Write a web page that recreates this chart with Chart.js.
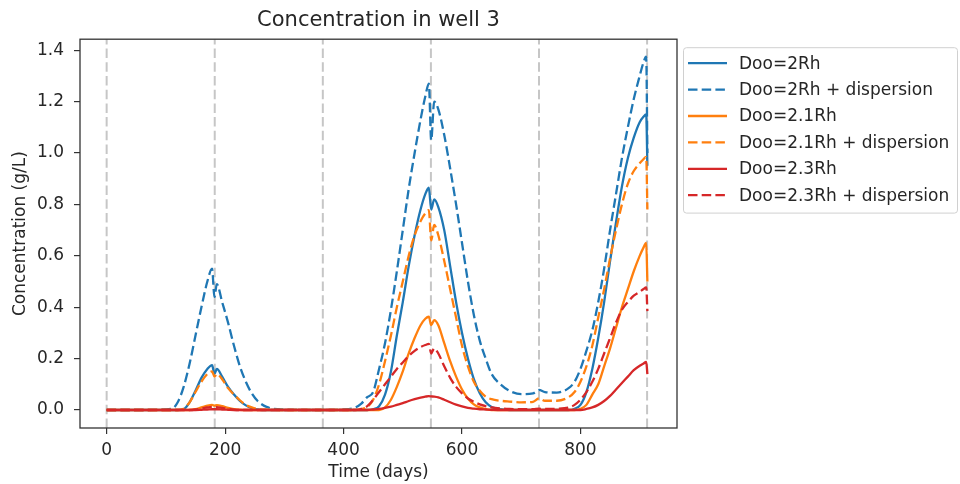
<!DOCTYPE html>
<html>
<head>
<meta charset="utf-8">
<title>Concentration in well 3</title>
<script src="https://cdn.jsdelivr.net/npm/chart.js@4.4.1/dist/chart.umd.min.js"></script>
<style>
  html, body { margin: 0; padding: 0; background: #fff; }
  #wrap { width: 960px; height: 484px; }
</style>
</head>
<body>
<div id="wrap"><canvas id="myChart" width="960" height="484"></canvas></div>
<script>
// Time axis (days), shared by every series
const days = [
  0, 60, 110, 120, 130, 140, 150, 160, 170, 178, 182, 186, 195, 205, 215, 225, 235, 245, 255, 270, 300,
  365, 400, 420, 430, 440, 450, 460, 470, 480, 490, 500, 510, 520, 530,
  538, 544, 548, 553, 560, 570, 580, 590, 600, 610, 620, 630, 640, 650, 665, 680, 700,
  720, 730, 740, 760, 780, 790, 800, 810, 820, 830, 840, 850, 860, 870, 880, 890, 900, 906, 911, 913
];

// Concentration (g/L) for each case
const doo2 = [
  0, 0, 0, 0, 0.003, 0.03, 0.075, 0.125, 0.16, 0.175, 0.14, 0.16, 0.13, 0.09, 0.06, 0.035, 0.018, 0.007, 0.002, 0, 0,
  0, 0, 0, 0, 0, 0.003, 0.015, 0.06, 0.15, 0.29, 0.42, 0.56, 0.68, 0.78,
  0.84, 0.865, 0.78, 0.82, 0.79, 0.70, 0.56, 0.42, 0.30, 0.20, 0.12, 0.065, 0.03, 0.012, 0.003, 0, 0,
  0, 0, 0, 0, 0, 0.005, 0.02, 0.07, 0.16, 0.28, 0.42, 0.58, 0.73, 0.87, 0.98, 1.06, 1.12, 1.14, 1.15, 0.95
];
const doo2Disp = [
  0, 0, 0.005, 0.03, 0.09, 0.18, 0.29, 0.40, 0.50, 0.55, 0.44, 0.49, 0.42, 0.34, 0.25, 0.17, 0.11, 0.065, 0.035, 0.012, 0.002,
  0, 0.002, 0.01, 0.025, 0.05, 0.07, 0.16, 0.26, 0.39, 0.54, 0.70, 0.86, 1.00, 1.13,
  1.22, 1.27, 1.05, 1.20, 1.17, 1.07, 0.94, 0.80, 0.65, 0.50, 0.37, 0.27, 0.20, 0.14, 0.10, 0.075, 0.062,
  0.065, 0.078, 0.07, 0.068, 0.085, 0.11, 0.16, 0.23, 0.31, 0.42, 0.55, 0.70, 0.84, 0.98, 1.10, 1.21, 1.30, 1.35, 1.375, 1.0
];
const doo21 = [
  0, 0, 0, 0, 0, 0, 0.003, 0.01, 0.017, 0.02, 0.017, 0.019, 0.015, 0.008, 0.003, 0.001, 0, 0, 0, 0, 0,
  0, 0, 0, 0, 0, 0, 0, 0.01, 0.04, 0.09, 0.15, 0.22, 0.28, 0.33,
  0.355, 0.363, 0.33, 0.35, 0.33, 0.26, 0.19, 0.13, 0.08, 0.045, 0.022, 0.01, 0.004, 0, 0, 0, 0,
  0, 0, 0, 0, 0, 0, 0.005, 0.02, 0.06, 0.10, 0.17, 0.24, 0.32, 0.40, 0.47, 0.54, 0.60, 0.63, 0.65, 0.50
];
const doo21Disp = [
  0, 0, 0, 0, 0.005, 0.03, 0.07, 0.11, 0.14, 0.15, 0.13, 0.14, 0.12, 0.085, 0.06, 0.038, 0.02, 0.01, 0.004, 0.001, 0,
  0, 0, 0, 0.003, 0.012, 0.04, 0.10, 0.19, 0.29, 0.40, 0.50, 0.60, 0.68, 0.735,
  0.765, 0.778, 0.66, 0.72, 0.68, 0.58, 0.47, 0.36, 0.25, 0.17, 0.11, 0.075, 0.052, 0.042, 0.036, 0.033, 0.03,
  0.032, 0.045, 0.036, 0.036, 0.05, 0.07, 0.11, 0.17, 0.25, 0.36, 0.47, 0.59, 0.70, 0.80, 0.88, 0.93, 0.96, 0.975, 0.985, 0.78
];
const doo23 = [
  0, 0, 0, 0, 0, 0, 0, 0.001, 0.002, 0.003, 0.003, 0.003, 0.002, 0.001, 0, 0, 0, 0, 0, 0, 0,
  0, 0, 0, 0, 0, 0.002, 0.004, 0.008, 0.013, 0.02, 0.027, 0.035, 0.042, 0.048,
  0.052, 0.054, 0.053, 0.052, 0.049, 0.04, 0.03, 0.021, 0.014, 0.008, 0.005, 0.003, 0.002, 0.001, 0, 0, 0,
  0, 0, 0, 0, 0, 0, 0, 0.004, 0.01, 0.02, 0.035, 0.055, 0.08, 0.105, 0.13, 0.155, 0.172, 0.18, 0.187, 0.14
];
const doo23Disp = [
  0, 0, 0, 0, 0, 0, 0.002, 0.006, 0.01, 0.012, 0.01, 0.011, 0.008, 0.004, 0.001, 0, 0, 0, 0, 0, 0,
  0, 0, 0, 0.005, 0.015, 0.04, 0.07, 0.10, 0.13, 0.16, 0.185, 0.21, 0.23, 0.245,
  0.253, 0.257, 0.22, 0.24, 0.22, 0.17, 0.125, 0.09, 0.065, 0.045, 0.032, 0.022, 0.015, 0.01, 0.006, 0.004, 0.003,
  0.003, 0.005, 0.004, 0.005, 0.01, 0.02, 0.04, 0.07, 0.11, 0.16, 0.22, 0.28, 0.34, 0.39, 0.42, 0.445, 0.46, 0.47, 0.477, 0.385
];

const seriesLabels = ['Doo=2Rh', 'Doo=2Rh + dispersion', 'Doo=2.1Rh', 'Doo=2.1Rh + dispersion', 'Doo=2.3Rh', 'Doo=2.3Rh + dispersion'];
const seriesValues = [doo2, doo2Disp, doo21, doo21Disp, doo23, doo23Disp];
const markerDays = [0, 182.5, 365, 547.5, 730, 912.5];   // dashed vertical lines
const xTicks = [0, 200, 400, 600, 800];
const yTicks = [0, 0.2, 0.4, 0.6, 0.8, 1.0, 1.2, 1.4];
const xMin = -45, xMax = 963;
const yMin = -0.07, yMax = 1.443;

const colors = ['#1f77b4', '#1f77b4', '#ff7f0e', '#ff7f0e', '#d62728', '#d62728'];
const dash = [9.5, 4.2];
const textColor = '#262626';

Chart.defaults.font.family = "'DejaVu Sans', sans-serif";
Chart.defaults.color = textColor;

const datasets = seriesValues.map((vals, i) => ({
  label: seriesLabels[i],
  data: days.map((d, k) => ({ x: d, y: vals[k] })),
  borderColor: colors[i],
  borderWidth: 2.3,
  borderDash: i % 2 === 1 ? dash : [],
  cubicInterpolationMode: 'monotone',
  pointRadius: 0,
  fill: false,
  order: 6 - i   // later series on top, as in the original
}));

// dashed grey verticals
markerDays.forEach((d) => {
  datasets.push({
    data: [{ x: d, y: yMin }, { x: d, y: yMax }],
    borderColor: 'rgba(128,128,128,0.45)',
    borderWidth: 2,
    borderDash: dash,
    pointRadius: 0,
    fill: false,
    order: 10
  });
});

// frame round the plot area
const frame = {
  id: 'frame',
  afterDraw(chart) {
    const { ctx, chartArea: a } = chart;
    ctx.save();
    ctx.strokeStyle = '#333';
    ctx.lineWidth = 1.3;
    ctx.strokeRect(a.left, a.top, a.right - a.left, a.bottom - a.top);
    ctx.restore();
  }
};

// legend box outside the plot, on the right
const legendBox = {
  id: 'legendBox',
  afterDraw(chart) {
    const { ctx, chartArea: a } = chart;
    const items = chart.data.datasets.filter((d) => d.label);
    const x0 = a.right + 6, y0 = a.top + 8;
    const rowH = 26.4;
    const w = 274, h = items.length * rowH + 7;
    ctx.save();
    ctx.fillStyle = 'rgba(255,255,255,0.8)';
    ctx.strokeStyle = '#d0d0d0';
    ctx.lineWidth = 1;
    ctx.beginPath();
    ctx.roundRect(x0 + 0.5, y0 + 0.5, w, h, 3);
    ctx.fill();
    ctx.stroke();
    ctx.font = "17px 'DejaVu Sans'";
    ctx.textBaseline = 'middle';
    ctx.textAlign = 'left';
    items.forEach((d, i) => {
      const y = y0 + 16 + i * rowH;
      ctx.strokeStyle = d.borderColor;
      ctx.lineWidth = d.borderWidth;
      ctx.setLineDash(d.borderDash);
      ctx.beginPath();
      ctx.moveTo(x0 + 5, y);
      ctx.lineTo(x0 + 44, y);
      ctx.stroke();
      ctx.setLineDash([]);
      ctx.fillStyle = textColor;
      ctx.fillText(d.label, x0 + 56, y + 1);
    });
    ctx.restore();
  }
};

new Chart(document.getElementById('myChart'), {
  type: 'line',
  data: { datasets },
  options: {
    responsive: false,
    animation: false,
    layout: { padding: { left: 0, top: 0, right: 283, bottom: 0 } },
    plugins: {
      legend: { display: false },
      tooltip: { enabled: false },
      title: {
        display: true,
        text: 'Concentration in well 3',
        fullSize: false,
        color: textColor,
        font: { size: 21, weight: 'normal' },
        padding: { top: 8, bottom: 6 }
      }
    },
    scales: {
      x: {
        type: 'linear',
        min: xMin,
        max: xMax,
        afterBuildTicks: (s) => { s.ticks = xTicks.map((v) => ({ value: v })); },
        afterFit: (s) => { s.height = 56; },
        ticks: { font: { size: 17 }, color: textColor, padding: 6, maxRotation: 0, callback: (v) => String(v) },
        grid: { drawOnChartArea: false, drawTicks: true, tickLength: 6, color: '#333', lineWidth: 1.2 },
        border: { display: false },
        title: { display: true, text: 'Time (days)', font: { size: 17 }, color: textColor, padding: { top: 0, bottom: 1 } }
      },
      y: {
        type: 'linear',
        min: yMin,
        max: yMax,
        afterBuildTicks: (s) => { s.ticks = yTicks.map((v) => ({ value: v })); },
        afterFit: (s) => { s.width = 80; },
        ticks: { font: { size: 17 }, color: textColor, padding: 10, callback: (v) => Number(v).toFixed(1) },
        grid: { drawOnChartArea: false, drawTicks: true, tickLength: 6, color: '#333', lineWidth: 1.2 },
        border: { display: false },
        title: { display: true, text: 'Concentration (g/L)', font: { size: 17 }, color: textColor, padding: { top: 10, bottom: 0 } }
      }
    }
  },
  plugins: [frame, legendBox]
});
</script>
</body>
</html>
